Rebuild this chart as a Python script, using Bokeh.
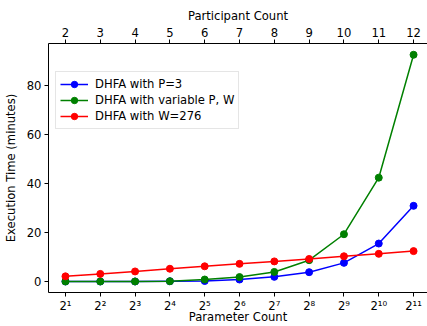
from bokeh.plotting import figure
from bokeh.models import LinearAxis, FixedTicker, Range1d, Legend, LegendItem
from bokeh.embed import file_html
from bokeh.resources import INLINE

# ---- data ----
exponents = [1, 2, 3, 4, 5, 6, 7, 8, 9, 10, 11]
param_labels = ["2¹", "2²", "2³", "2⁴", "2⁵", "2⁶", "2⁷", "2⁸", "2⁹", "2¹⁰", "2¹¹"]
participants = [2, 3, 4, 5, 6, 7, 8, 9, 10, 11, 12]
dhfa_p3 = [0.0, 0.0, 0.0, 0.1, 0.2, 0.8, 1.9, 3.8, 7.6, 15.5, 30.9]
dhfa_var = [0.0, 0.0, 0.0, 0.1, 0.8, 1.8, 3.9, 8.7, 19.3, 42.4, 92.6]
dhfa_w276 = [2.1, 3.1, 4.1, 5.2, 6.2, 7.2, 8.2, 9.2, 10.3, 11.3, 12.4]
y_ticks = [0, 20, 40, 60, 80]

series = [
    ("DHFA with P=3", dhfa_p3, "#0000ff"),
    ("DHFA with variable P, W", dhfa_var, "#008000"),
    ("DHFA with W=276", dhfa_w276, "#ff0000"),
]

FONT = "DejaVu Sans"
FS = "11.6px"

p = figure(width=427, height=326, output_backend="svg", toolbar_location=None,
           x_range=Range1d(0.513, 11.40), y_range=Range1d(-4.5, 97.2),
           min_border_left=47, min_border_right=0, min_border_top=43,
           min_border_bottom=30, outline_line_color=None,
           background_fill_color="white", border_fill_color="white")
p.xgrid.visible = False
p.ygrid.visible = False


def style_axis(ax):
    ax.axis_line_color = "black"
    ax.axis_line_width = 1
    ax.major_tick_line_color = "black"
    ax.major_tick_in = 0
    ax.major_tick_out = 4
    ax.minor_tick_line_color = None
    ax.major_label_text_font = FONT
    ax.major_label_text_font_size = FS
    ax.major_label_text_color = "black"
    ax.axis_label_text_font = FONT
    ax.axis_label_text_font_size = FS
    ax.axis_label_text_font_style = "normal"
    ax.axis_label_text_color = "black"


xb = p.xaxis[0]
xb.ticker = FixedTicker(ticks=exponents)
xb.major_label_overrides = {e: l for e, l in zip(exponents, param_labels)}
xb.axis_label = "Parameter Count"
style_axis(xb)
xb.major_label_standoff = 2
xb.axis_label_standoff = -6

yl = p.yaxis[0]
yl.ticker = FixedTicker(ticks=y_ticks)
yl.axis_label = "Execution Time (minutes)"
style_axis(yl)
yl.major_label_standoff = 3
yl.axis_label_standoff = 6

top = LinearAxis(ticker=FixedTicker(ticks=exponents),
                 major_label_overrides={e: str(n) for e, n in zip(exponents, participants)},
                 axis_label="Participant Count")
style_axis(top)
top.major_label_standoff = 3
top.axis_label_standoff = 2
p.add_layout(top, "above")

items = []
for label, vals, col in series:
    ln = p.line(exponents, vals, line_color=col, line_width=1.5)
    sc = p.scatter(exponents, vals, size=7, fill_color=col, line_color=col)
    items.append(LegendItem(label=label, renderers=[ln, sc]))

legend = Legend(items=items, location=(7, 163))
legend.label_text_font = FONT
legend.label_text_font_size = FS
legend.label_text_color = "black"
legend.glyph_width = 28
legend.glyph_height = 16
legend.label_height = 16
legend.spacing = 0
legend.padding = 4
legend.margin = 0
legend.label_standoff = 7
legend.border_line_color = "#cccccc"
legend.border_line_width = 1
legend.background_fill_alpha = 0.8
p.add_layout(legend)

open("out.html", "w").write(file_html(p, INLINE))
